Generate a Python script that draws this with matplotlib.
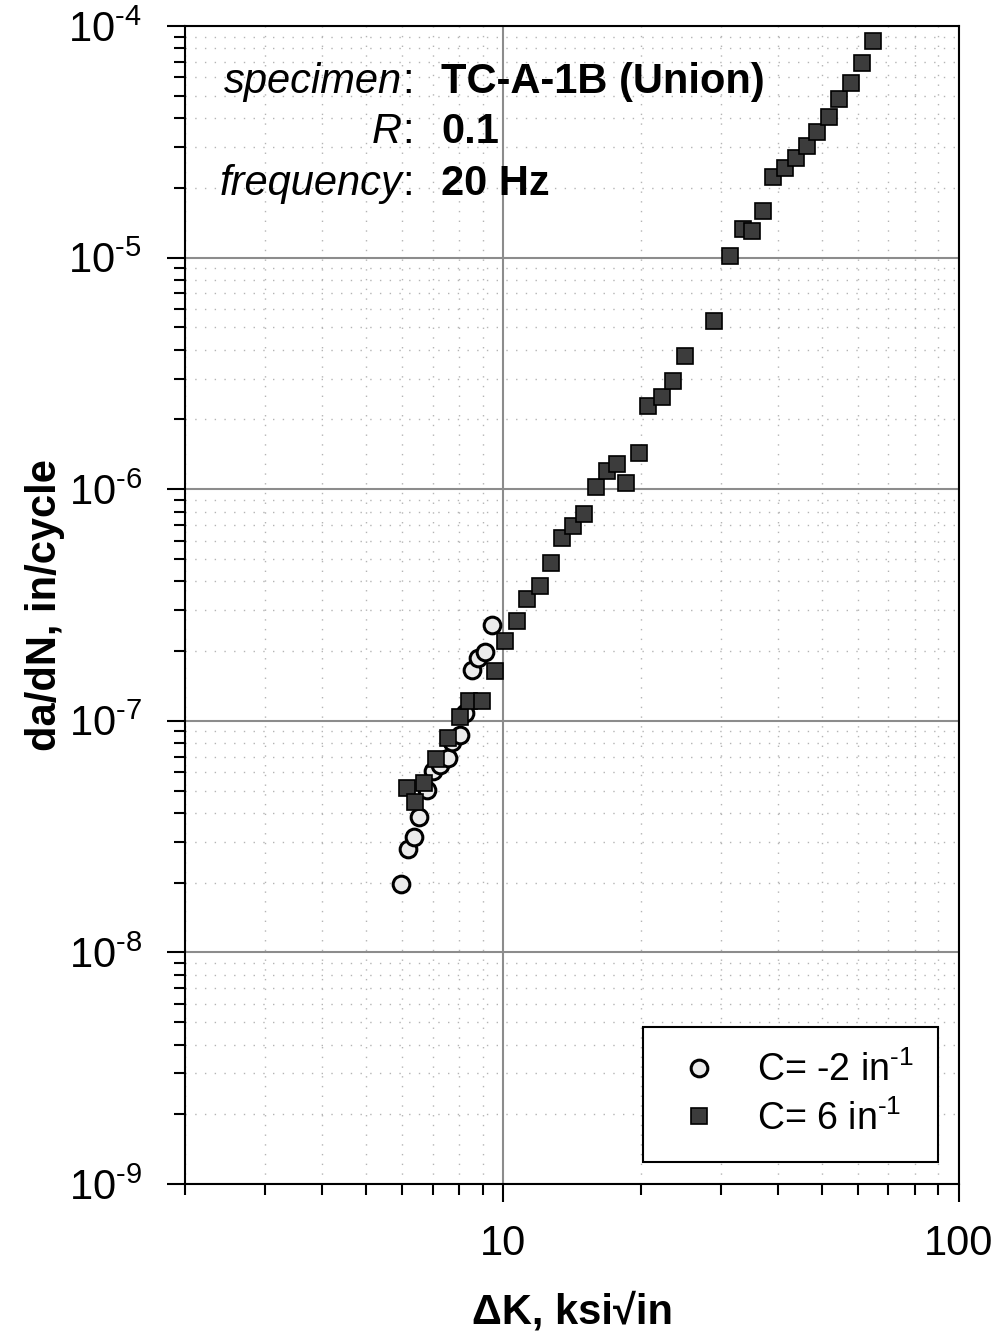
import matplotlib
matplotlib.use("Agg")
import matplotlib.pyplot as plt
from matplotlib.ticker import LogLocator, NullFormatter, FixedLocator, FixedFormatter

# Fuente tipo Arial
plt.rcParams['font.family'] = ['Liberation Sans', 'DejaVu Sans']
plt.rcParams['mathtext.fontset'] = 'custom'
plt.rcParams['mathtext.rm'] = 'Liberation Sans'
plt.rcParams['mathtext.it'] = 'Liberation Sans:italic'
plt.rcParams['mathtext.bf'] = 'Liberation Sans:bold'

# ----------------------------------------------
# DATOS
# ----------------------------------------------
# C = -2 in^-1 (circulos)
dK_c_neg2 = [5.97, 6.16, 6.35, 6.54, 6.81, 7.02, 7.27, 7.54, 7.73, 8.01,
             8.25, 8.55, 8.81, 9.13, 9.46]
dadN_c_neg2 = [1.97e-8, 2.80e-8, 3.15e-8, 3.84e-8, 5.03e-8, 6.07e-8, 6.44e-8,
               6.91e-8, 8.10e-8, 8.69e-8, 1.08e-7, 1.657e-7, 1.867e-7,
               1.98e-7, 2.59e-7]

# C = 6 in^-1 (cuadrados)
dK_c6 = [6.13, 6.38, 6.68, 7.10, 7.54, 8.01, 8.42, 8.99, 9.56, 10.1,
         10.73, 11.29, 12.05, 12.74, 13.47, 14.24, 15.05, 15.99, 16.91, 17.78,
         18.61, 19.88, 20.80, 22.32, 23.60, 25.07, 29.02, 31.47, 33.60, 35.16,
         37.17, 39.09, 41.53, 43.92, 46.42, 48.82, 51.86, 54.55, 57.97, 61.28,
         64.78]
dadN_c6 = [5.13e-8, 4.46e-8, 5.39e-8, 6.84e-8, 8.43e-8, 1.04e-7, 1.218e-7,
           1.218e-7, 1.64e-7, 2.21e-7, 2.70e-7, 3.36e-7, 3.82e-7, 4.80e-7,
           6.15e-7, 6.94e-7, 7.81e-7, 1.022e-6, 1.199e-6, 1.285e-6, 1.063e-6,
           1.434e-6, 2.286e-6, 2.50e-6, 2.93e-6, 3.76e-6, 5.32e-6, 1.016e-5,
           1.328e-5, 1.302e-5, 1.588e-5, 2.228e-5, 2.437e-5, 2.69e-5, 3.03e-5,
           3.48e-5, 4.05e-5, 4.84e-5, 5.67e-5, 6.92e-5, 8.61e-5]

# \u2010 = guion corto (como en la figura original)
label_neg2 = 'C= -2 in$^{\u20101}$'
label_6 = 'C= 6 in$^{\u20101}$'

x_ticks = [10, 100]
x_tick_labels = ['10', '100']
y_ticks = [1e-9, 1e-8, 1e-7, 1e-6, 1e-5, 1e-4]
y_tick_labels = ['$10^{\u20109}$', '$10^{\u20108}$', '$10^{\u20107}$',
                 '$10^{\u20106}$', '$10^{\u20105}$', '$10^{\u20104}$']

# ----------------------------------------------
# FIGURA
# ----------------------------------------------
fig = plt.figure(figsize=(10, 13.41), dpi=100)
ax = fig.add_axes([0.185, 0.1171, 0.774, 0.8635])

ax.set_xscale('log')
ax.set_yscale('log')
ax.set_xlim(2, 100)
ax.set_ylim(1e-9, 1e-4)

# Rejilla
ax.grid(which='major', color='#8c8c8c', linestyle='-', linewidth=1.5)
ax.grid(which='minor', color='#b4b4b4', linestyle=(0, (1, 6)), linewidth=1.0)
ax.set_axisbelow(True)

# Puntos
ax.plot(dK_c_neg2, dadN_c_neg2, linestyle='none', marker='o', markersize=12,
        markerfacecolor='#ebebeb', markeredgecolor='black', markeredgewidth=2.2,
        label=label_neg2, zorder=3)
ax.plot(dK_c6, dadN_c6, linestyle='none', marker='s', markersize=11,
        markerfacecolor='#3c3c3c', markeredgecolor='black', markeredgewidth=1.2,
        label=label_6, zorder=4)

# Ejes y marcas
ax.xaxis.set_major_locator(FixedLocator(x_ticks))
ax.xaxis.set_major_formatter(FixedFormatter(x_tick_labels))
ax.xaxis.set_minor_locator(LogLocator(base=10, subs=range(2, 10)))
ax.xaxis.set_minor_formatter(NullFormatter())
ax.yaxis.set_major_locator(FixedLocator(y_ticks))
ax.yaxis.set_major_formatter(FixedFormatter(y_tick_labels))
ax.yaxis.set_minor_locator(LogLocator(base=10, subs=range(2, 10)))
ax.yaxis.set_minor_formatter(NullFormatter())

ax.tick_params(which='major', direction='out', length=13, width=1.5, labelsize=30)
ax.tick_params(which='minor', direction='out', length=8, width=1.5)
ax.tick_params(axis='x', which='major', pad=16)
ax.tick_params(axis='y', which='major', pad=18)
for sp in ax.spines.values():
    sp.set_linewidth(1.5)
    sp.set_color('black')

# Etiquetas de los ejes
fig.text(0.572, 1 - 1313 / 1341, 'ΔK, ksi√in', fontsize=30, fontweight='bold',
         ha='center', va='center')
fig.text(0.045, 1 - 605 / 1341, 'da/dN, in/cycle', fontsize=30, fontweight='bold',
         rotation=90, ha='center', va='center')

# Texto informativo
fig.text(0.402, 1 - 93 / 1341, 'specimen', fontsize=30, style='italic', ha='right', va='baseline')
fig.text(0.402, 1 - 93 / 1341, ':', fontsize=30, ha='left', va='baseline')
fig.text(0.441, 1 - 93 / 1341, 'TC-A-1B (Union)', fontsize=30, fontweight='bold', ha='left', va='baseline')
fig.text(0.402, 1 - 143 / 1341, 'R', fontsize=30, style='italic', ha='right', va='baseline')
fig.text(0.402, 1 - 143 / 1341, ':', fontsize=30, ha='left', va='baseline')
fig.text(0.441, 1 - 143 / 1341, '0.1', fontsize=30, fontweight='bold', ha='left', va='baseline')
fig.text(0.402, 1 - 195 / 1341, 'frequency', fontsize=30, style='italic', ha='right', va='baseline')
fig.text(0.402, 1 - 195 / 1341, ':', fontsize=30, ha='left', va='baseline')
fig.text(0.441, 1 - 195 / 1341, '20 Hz', fontsize=30, fontweight='bold', ha='left', va='baseline')

# Leyenda
leg = ax.legend(loc='lower right', bbox_to_anchor=(0.973, 0.019), borderaxespad=0,
                fontsize=27, frameon=True, fancybox=False, framealpha=1,
                edgecolor='black', borderpad=0.65, handlelength=1.7,
                handletextpad=0.7, labelspacing=0.3)
leg.get_frame().set_linewidth(1.5)
leg.set_zorder(5)

fig.savefig('out.png', dpi=100, facecolor='white')
